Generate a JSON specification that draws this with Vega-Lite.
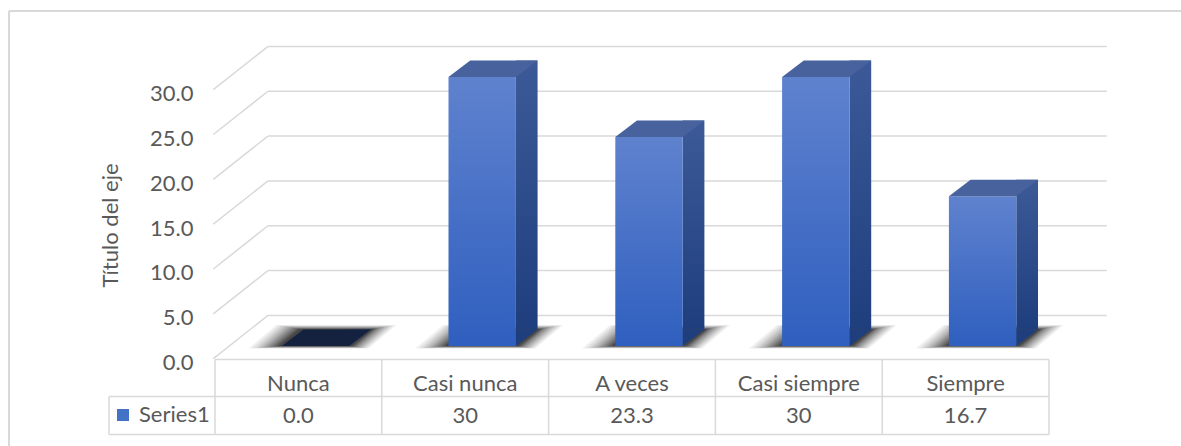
{
  "$schema": "https://vega.github.io/schema/vega-lite/v6.json",
  "width": 834,
  "height": 269,
  "autosize": {"type": "none"},
  "padding": {"left": 215, "top": 77, "right": 132, "bottom": 100},
  "background": "#ffffff",
  "config": {"view": {"stroke": null}},
  "datasets": {
    "barras": [
      {"categoria": "Nunca", "valor": 0, "etiqueta": "0.0", "serie": "Series1"},
      {"categoria": "Casi nunca", "valor": 30, "etiqueta": "30", "serie": "Series1"},
      {"categoria": "A veces", "valor": 23.3, "etiqueta": "23.3", "serie": "Series1"},
      {"categoria": "Casi siempre", "valor": 30, "etiqueta": "30", "serie": "Series1"},
      {"categoria": "Siempre", "valor": 16.7, "etiqueta": "16.7", "serie": "Series1"}
    ],
    "marcas": [{"t": 0}, {"t": 5}, {"t": 10}, {"t": 15}, {"t": 20}, {"t": 25}, {"t": 30}],
    "uno": [{}]
  },
  "layer": [
    {
      "data": {"name": "marcas"},
      "mark": {"type": "rule", "color": "#d9d9d9", "strokeWidth": 1.5, "xOffset": -30.4, "x2Offset": 141.1, "yOffset": -30.6, "y2Offset": -30.6},
      "encoding": {
        "x": {"datum": "Nunca", "type": "nominal", "scale": {"type": "band", "domain": ["Nunca", "Casi nunca", "A veces", "Casi siempre", "Siempre"], "paddingInner": 0, "paddingOuter": 0}, "axis": null},
        "x2": {"datum": "Siempre"},
        "y": {
          "field": "t", "type": "quantitative",
          "scale": {"domain": [0, 30], "nice": false},
          "axis": {
            "values": [0, 5, 10, 15, 20, 25, 30], "format": ".1f",
            "grid": false, "ticks": false, "domain": false,
            "offset": 20, "labelPadding": 2, "labelOffset": 16.5,
            "labelFont": "Lato", "labelFontSize": 22, "labelColor": "#595959",
            "labelBaseline": "middle", "labelFlush": false, "labelOverlap": false, "labelBound": false,
            "title": "Título del eje", "titleFont": "Lato", "titleFontSize": 22, "titleFontWeight": "normal",
            "titleColor": "#595959", "titleX": -85, "titleY": 148, "titleAngle": -90,
            "titleAlign": "center", "titleBaseline": "middle"
          }
        },
        "y2": {"field": "t"}
      }
    },
    {
      "data": {"name": "marcas"},
      "mark": {"type": "rule", "color": "#d9d9d9", "strokeWidth": 1.5, "xOffset": -85.1, "x2Offset": -30.4, "yOffset": 12.7, "y2Offset": -30.6},
      "encoding": {
        "x": {"datum": "Nunca", "type": "nominal", "axis": null},
        "x2": {"datum": "Nunca"},
        "y": {"field": "t", "type": "quantitative"},
        "y2": {"field": "t"}
      }
    },
    {
      "data": {"name": "uno"},
      "mark": {"type": "rule", "color": "#d9d9d9", "strokeWidth": 2, "xOffset": -289.4, "x2Offset": 216, "yOffset": -66, "y2Offset": -66},
      "encoding": {
        "x": {"datum": "Nunca", "type": "nominal", "axis": null},
        "x2": {"datum": "Siempre"},
        "y": {"datum": 30, "type": "quantitative"},
        "y2": {"datum": 30}
      }
    },
    {
      "data": {"name": "uno"},
      "mark": {"type": "rule", "color": "#d9d9d9", "strokeWidth": 2, "xOffset": -289.4, "yOffset": -66, "y2Offset": 100},
      "encoding": {
        "x": {"datum": "Nunca", "type": "nominal", "axis": null},
        "y": {"datum": 30, "type": "quantitative"},
        "y2": {"datum": 0}
      }
    },
    {
      "data": {"name": "uno"},
      "mark": {"type": "rule", "color": "#d9d9d9", "strokeWidth": 1.5, "xOffset": -83.4, "x2Offset": 83.4, "yOffset": 13.5, "y2Offset": 13.5},
      "encoding": {
        "x": {"datum": "Nunca", "type": "nominal", "axis": null},
        "x2": {"datum": "Siempre"},
        "y": {"datum": 0, "type": "quantitative"},
        "y2": {"datum": 0}
      }
    },
    {
      "data": {"name": "uno"},
      "mark": {"type": "rule", "color": "#d9d9d9", "strokeWidth": 1.5, "xOffset": -189.4, "x2Offset": 83.4, "yOffset": 50.6, "y2Offset": 50.6},
      "encoding": {
        "x": {"datum": "Nunca", "type": "nominal", "axis": null},
        "x2": {"datum": "Siempre"},
        "y": {"datum": 0, "type": "quantitative"},
        "y2": {"datum": 0}
      }
    },
    {
      "data": {"name": "uno"},
      "mark": {"type": "rule", "color": "#d9d9d9", "strokeWidth": 1.5, "xOffset": -189.4, "x2Offset": 83.4, "yOffset": 88.5, "y2Offset": 88.5},
      "encoding": {
        "x": {"datum": "Nunca", "type": "nominal", "axis": null},
        "x2": {"datum": "Siempre"},
        "y": {"datum": 0, "type": "quantitative"},
        "y2": {"datum": 0}
      }
    },
    {
      "data": {"name": "barras"},
      "mark": {"type": "rule", "color": "#d9d9d9", "strokeWidth": 1.5, "xOffset": -83.4, "yOffset": 13.5, "y2Offset": 88.5},
      "encoding": {
        "x": {"field": "categoria", "type": "nominal", "axis": null},
        "y": {"datum": 0, "type": "quantitative"},
        "y2": {"datum": 0}
      }
    },
    {
      "data": {"name": "uno"},
      "mark": {"type": "rule", "color": "#d9d9d9", "strokeWidth": 1.5, "xOffset": 83.4, "yOffset": 13.5, "y2Offset": 88.5},
      "encoding": {
        "x": {"datum": "Siempre", "type": "nominal", "axis": null},
        "y": {"datum": 0, "type": "quantitative"},
        "y2": {"datum": 0}
      }
    },
    {
      "data": {"name": "uno"},
      "mark": {"type": "rule", "color": "#d9d9d9", "strokeWidth": 1.5, "xOffset": -189.4, "yOffset": 50.6, "y2Offset": 88.5},
      "encoding": {
        "x": {"datum": "Nunca", "type": "nominal", "axis": null},
        "y": {"datum": 0, "type": "quantitative"},
        "y2": {"datum": 0}
      }
    },
    {
      "data": {"name": "barras"},
      "mark": {"type": "point", "filled": true, "size": 4, "strokeWidth": 0, "color": "#000000", "opacity": 0.06, "shape": "M-50,2.5L70,2.5L98,-21L-22,-21Z"},
      "encoding": {
        "x": {"field": "categoria", "type": "nominal", "axis": null},
        "y": {"datum": 0, "type": "quantitative"}
      }
    },
    {
      "data": {"name": "barras"},
      "mark": {"type": "point", "filled": true, "size": 4, "strokeWidth": 0, "color": "#000000", "opacity": 0.07, "shape": "M-46,2.2L68,2.2L95,-20.5L-19.5,-20.5Z"},
      "encoding": {
        "x": {"field": "categoria", "type": "nominal", "axis": null},
        "y": {"datum": 0, "type": "quantitative"}
      }
    },
    {
      "data": {"name": "barras"},
      "mark": {"type": "point", "filled": true, "size": 4, "strokeWidth": 0, "color": "#000000", "opacity": 0.08, "shape": "M-42,2L66,2L92,-20L-17,-20Z"},
      "encoding": {
        "x": {"field": "categoria", "type": "nominal", "axis": null},
        "y": {"datum": 0, "type": "quantitative"}
      }
    },
    {
      "data": {"name": "barras"},
      "mark": {"type": "point", "filled": true, "size": 4, "strokeWidth": 0, "color": "#000000", "opacity": 0.09, "shape": "M-38.5,1.7L64,1.7L89,-19.5L-14,-19.5Z"},
      "encoding": {
        "x": {"field": "categoria", "type": "nominal", "axis": null},
        "y": {"datum": 0, "type": "quantitative"}
      }
    },
    {
      "data": {"name": "barras"},
      "mark": {"type": "point", "filled": true, "size": 4, "strokeWidth": 0, "color": "#000000", "opacity": 0.11, "shape": "M-35,1.4L62,1.4L86,-19L-11,-19Z"},
      "encoding": {
        "x": {"field": "categoria", "type": "nominal", "axis": null},
        "y": {"datum": 0, "type": "quantitative"}
      }
    },
    {
      "data": {"name": "barras"},
      "mark": {"type": "point", "filled": true, "size": 4, "strokeWidth": 0, "color": "#000000", "opacity": 0.13, "shape": "M-31.5,1.1L60,1.1L83,-18.5L-8.5,-18.5Z"},
      "encoding": {
        "x": {"field": "categoria", "type": "nominal", "axis": null},
        "y": {"datum": 0, "type": "quantitative"}
      }
    },
    {
      "data": {"name": "barras"},
      "mark": {"type": "point", "filled": true, "size": 4, "strokeWidth": 0, "color": "#000000", "opacity": 0.16, "shape": "M-28,0.8L58,0.8L80,-18L-5.5,-18Z"},
      "encoding": {
        "x": {"field": "categoria", "type": "nominal", "axis": null},
        "y": {"datum": 0, "type": "quantitative"}
      }
    },
    {
      "data": {"name": "barras"},
      "mark": {"type": "point", "filled": true, "size": 4, "strokeWidth": 0, "color": "#000000", "opacity": 0.2, "shape": "M-24.5,0.5L56,0.5L77.5,-17.5L-2.5,-17.5Z"},
      "encoding": {
        "x": {"field": "categoria", "type": "nominal", "axis": null},
        "y": {"datum": 0, "type": "quantitative"}
      }
    },
    {
      "data": {"name": "barras"},
      "mark": {"type": "point", "filled": true, "size": 4, "strokeWidth": 0, "color": "#000000", "opacity": 0.25, "shape": "M-21,0.3L54,0.3L75.5,-17L0,-17Z"},
      "encoding": {
        "x": {"field": "categoria", "type": "nominal", "axis": null},
        "y": {"datum": 0, "type": "quantitative"}
      }
    },
    {
      "data": {"name": "barras"},
      "mark": {
        "type": "bar", "width": 21.7, "xOffset": 61.55, "yOffset": -16.5, "y2Offset": -16.5,
        "fill": {"gradient": "linear", "x1": 0, "y1": 0, "x2": 0, "y2": 1, "stops": [{"offset": 0, "color": "#3c5a98"}, {"offset": 1, "color": "#1f3e7d"}]}
      },
      "encoding": {
        "x": {"field": "categoria", "type": "nominal", "axis": null},
        "y": {"field": "valor", "type": "quantitative"},
        "y2": {"datum": 0}
      }
    },
    {
      "data": {"name": "barras"},
      "mark": {"type": "point", "filled": true, "size": 4, "strokeWidth": 0, "color": "#1f3e7d", "opacity": 1, "shape": "M50.7,0L50.7,-16.5L72.4,-16.5Z"},
      "encoding": {
        "x": {"field": "categoria", "type": "nominal", "axis": null},
        "y": {"datum": 0, "type": "quantitative"}
      }
    },
    {
      "data": {"name": "barras"},
      "mark": {
        "type": "bar", "width": 67.4, "xOffset": 17,
        "fill": {"gradient": "linear", "x1": 0, "y1": 0, "x2": 0, "y2": 1, "stops": [{"offset": 0, "color": "#5f82ce"}, {"offset": 1, "color": "#2f5fbf"}]}
      },
      "encoding": {
        "x": {"field": "categoria", "type": "nominal", "axis": null},
        "y": {"field": "valor", "type": "quantitative"},
        "y2": {"datum": 0}
      }
    },
    {
      "data": {"name": "barras"},
      "mark": {"type": "point", "filled": true, "size": 4, "strokeWidth": 0, "opacity": 1, "shape": "M-16.7,0L50.7,0L72.4,-16.5L5,-16.5Z"},
      "encoding": {
        "x": {"field": "categoria", "type": "nominal", "axis": null},
        "y": {"field": "valor", "type": "quantitative"},
        "color": {"condition": {"test": "datum.valor == 0", "value": "#15223f"}, "value": "#47629d"}
      }
    },
    {
      "data": {"name": "barras"},
      "mark": {"type": "point", "filled": true, "shape": "square", "size": 4, "opacity": 0},
      "encoding": {
        "x": {"field": "categoria", "type": "nominal", "axis": null},
        "y": {"field": "valor", "type": "quantitative"},
        "color": {
          "field": "serie", "type": "nominal",
          "scale": {"domain": ["Series1"], "range": ["#4472c4"]},
          "legend": {
            "orient": "none", "legendX": -103, "legendY": 327, "title": null, "padding": 0,
            "symbolType": "square", "symbolSize": 144, "symbolStrokeWidth": 0, "symbolOpacity": 1,
            "labelFont": "Lato", "labelFontSize": 22, "labelColor": "#595959", "labelOffset": 5
          }
        }
      }
    },
    {
      "data": {"name": "barras"},
      "mark": {"type": "text", "font": "Lato", "fontSize": 22, "color": "#595959", "align": "center", "baseline": "middle", "yOffset": 37.5},
      "encoding": {
        "x": {"field": "categoria", "type": "nominal", "axis": null},
        "y": {"datum": 0, "type": "quantitative"},
        "text": {"field": "categoria"}
      }
    },
    {
      "data": {"name": "barras"},
      "mark": {"type": "text", "font": "Lato", "fontSize": 22, "color": "#595959", "align": "center", "baseline": "middle", "yOffset": 70},
      "encoding": {
        "x": {"field": "categoria", "type": "nominal", "axis": null},
        "y": {"datum": 0, "type": "quantitative"},
        "text": {"field": "etiqueta"}
      }
    }
  ]
}
